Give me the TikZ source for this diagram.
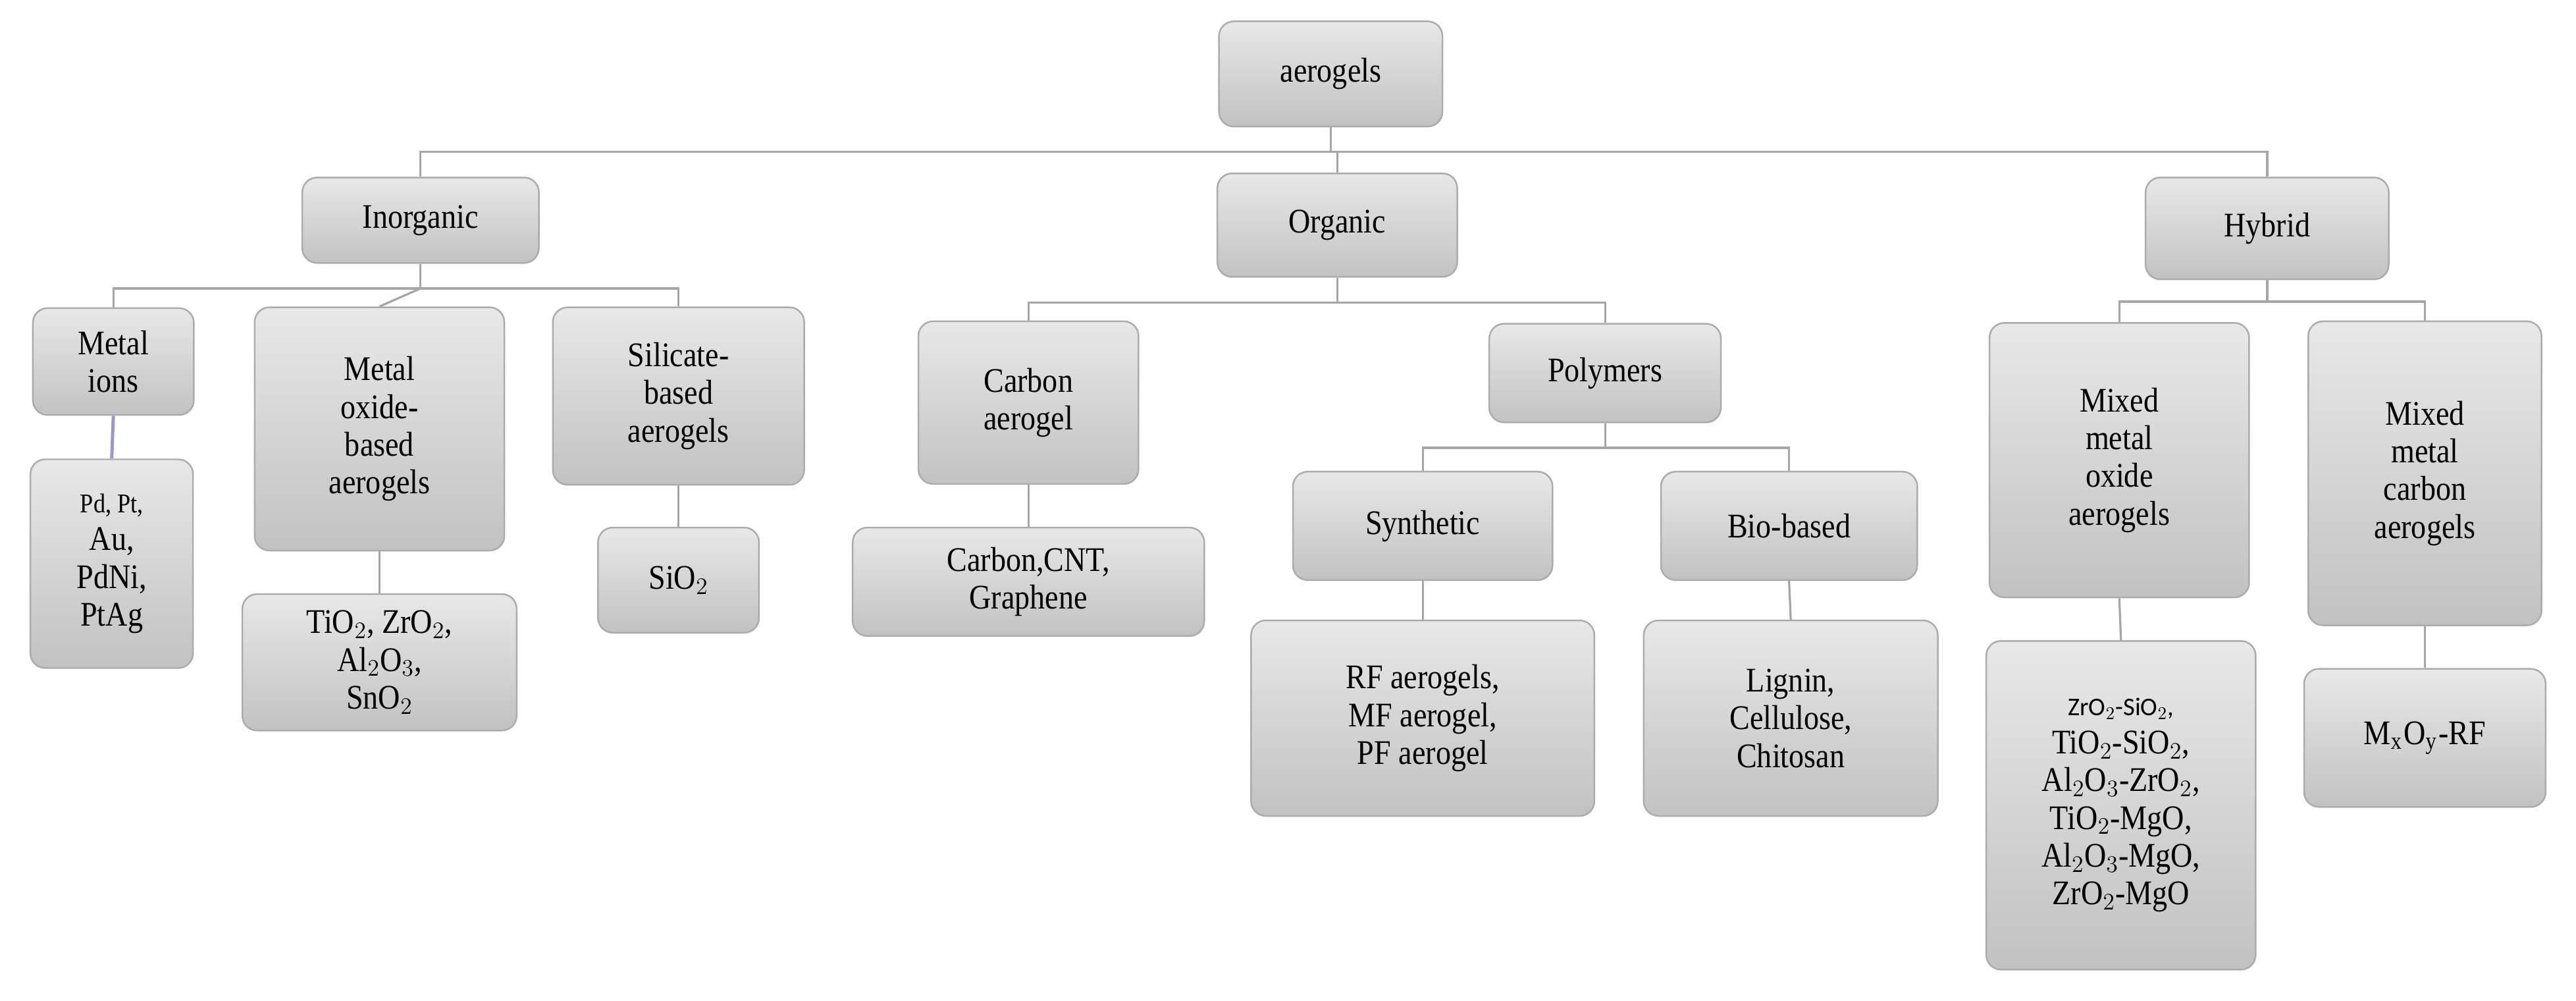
\documentclass[tikz,border=0pt]{standalone}
\usepackage{fontspec}
\setmainfont[FakeStretch=0.88]{Liberation Serif}
\newfontfamily\calib{Carlito}
\usetikzlibrary{positioning}
\tikzset{
  bx/.style={draw=gray!65,line width=1pt,rounded corners=9pt,top color=gray!18,bottom color=gray!48,
    align=center,inner sep=0pt,font=\fontsize{21}{23}\selectfont},
  ln/.style={draw=gray!70,line width=1.3pt},
}
\newcommand{\bxat}[6]{\node[bx,minimum width=#4pt,minimum height=#5pt] (#1) at (#2pt,-#3pt) {#6};}
\begin{document}
\begin{tikzpicture}[x=1pt,y=1pt]
\useasboundingbox (0,0) rectangle (1568,-609);
\bxat{root}{810}{45}{136}{64}{aerogels}
\bxat{inorg}{256}{134}{144}{52}{Inorganic}
\bxat{org}{814}{137}{146}{63}{Organic}
\bxat{hyb}{1380}{139}{148}{62}{Hybrid}
\bxat{mions}{69}{220}{98}{65}{Metal\\ions}
\bxat{mox}{231}{261}{152}{148}{Metal\\oxide-\\based\\aerogels}
\bxat{sil}{413}{241}{153}{108}{Silicate-\\based\\aerogels}
\bxat{pd}{68}{343}{99}{127}{\fontsize{16.5}{18.5}\selectfont Pd, Pt,\\Au,\\PdNi,\\PtAg}
\bxat{tio}{231}{403}{167}{83}{TiO$_2$, ZrO$_2$,\\Al$_2$O$_3$,\\SnO$_2$}
\bxat{sio}{413}{353}{98}{64}{SiO$_2$}
\bxat{carb}{626}{245}{134}{99}{Carbon\\aerogel}
\bxat{poly}{977}{227}{141}{60}{Polymers}
\bxat{cnt}{626}{354}{214}{66}{Carbon,CNT,\\Graphene}
\bxat{syn}{866}{320}{158}{66}{Synthetic}
\bxat{bio}{1089}{320}{156}{66}{Bio-based}
\bxat{rf}{866}{437}{209}{119}{RF aerogels,\\MF aerogel,\\PF aerogel}
\bxat{lig}{1090}{437}{179}{119}{Lignin,\\Cellulose,\\Chitosan}
\bxat{mmo}{1290}{280}{158}{167}{Mixed\\metal\\oxide\\aerogels}
\bxat{mmc}{1476}{288}{142}{185}{Mixed\\metal\\carbon\\aerogels}
\bxat{zr}{1291}{490}{164}{200}{\calib\fontsize{15.5}{21.5}\selectfont ZrO$_2$-SiO$_2$,\\TiO$_2$-SiO$_2$,\\Al$_2$O$_3$-ZrO$_2$,\\TiO$_2$-MgO,\\Al$_2$O$_3$-MgO,\\ZrO$_2$-MgO}
\bxat{mxo}{1476}{449}{147}{84}{M$_\mathrm{x}$O$_\mathrm{y}$-RF}
% connectors
\draw[ln] (root.south) -- ++(0,-15) coordinate (r1);
\draw[ln] (inorg.north) |- (r1) -| (hyb.north);
\draw[ln] (r1) -| (org.north);
\draw[ln] (inorg.south) -- ++(0,-15) coordinate (i1);
\draw[ln] (mions.north) |- (i1) -| (sil.north);
\draw[ln] (i1) -- (mox.north);
\draw[ln] (org.south) -- ++(0,-15) coordinate (o1);
\draw[ln] (carb.north) |- (o1) -| (poly.north);
\draw[ln] (poly.south) -- ++(0,-15) coordinate (p1);
\draw[ln] (syn.north) |- (p1) -| (bio.north);
\draw[ln] (hyb.south) -- ++(0,-13) coordinate (h1);
\draw[ln] (mmo.north) |- (h1) -| (mmc.north);
\draw[draw=blue!35!gray!60,line width=2pt] (mions.south) -- (pd.north);
\draw[ln] (mox.south) -- (tio.north);
\draw[ln] (sil.south) -- (sio.north);
\draw[ln] (carb.south) -- (cnt.north);
\draw[ln] (syn.south) -- (rf.north);
\draw[ln] (bio.south) -- (lig.north);
\draw[ln] (mmo.south) -- (zr.north);
\draw[ln] (mmc.south) -- (mxo.north);
\end{tikzpicture}
\end{document}
